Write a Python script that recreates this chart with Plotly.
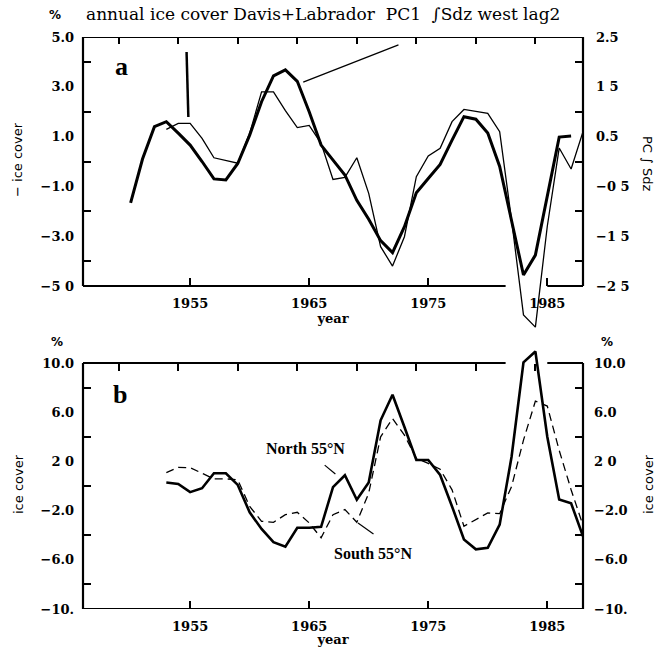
import plotly.graph_objects as go

# ---------------- data ----------------
years_pc1 = list(range(1950, 1988))
pc1_sdz = [-0.83, 0.05, 0.70, 0.80, 0.57, 0.33, 0.00, -0.35, -0.37, -0.04,
           0.53, 1.20, 1.72, 1.84, 1.61, 1.00, 0.33, 0.03, -0.27, -0.78,
           -1.16, -1.59, -1.83, -1.31, -0.63, -0.34, -0.06, 0.43, 0.90, 0.85,
           0.57, -0.10, -1.20, -2.28, -1.88, -0.72, 0.49, 0.51]

years_ice = list(range(1953, 1989))
neg_ice_cover = [1.29, 1.53, 1.53, 0.93, 0.15, 0.03, -0.07, 1.13, 2.80, 2.80,
                 2.04, 1.36, 1.45, 0.73, -0.72, -0.64, 0.15, -1.28, -3.42, -4.20,
                 -3.02, -0.61, 0.22, 0.53, 1.60, 2.09, 2.00, 1.93, 1.20, -2.35,
                 -6.16, -6.65, -2.60, 0.54, -0.30, 1.20]

years_b = list(range(1953, 1989))
north_55 = [0.28, 0.17, -0.50, -0.18, 1.04, 1.04, 0.09, -2.14, -3.49, -4.56,
            -4.94, -3.40, -3.40, -3.32, -0.09, 0.87, -1.12, 0.28, 5.34, 7.42,
            4.80, 2.11, 2.11, 0.90, -1.66, -4.35, -5.15, -5.02, -3.14, 2.38,
            10.05, 10.94, 4.00, -1.10, -1.40, -4.10]
south_55 = [1.09, 1.52, 1.49, 1.04, 0.58, 0.58, 0.50, -1.66, -2.87, -2.95,
            -2.33, -2.14, -3.00, -4.21, -2.33, -1.92, -2.95, -0.58, 4.00, 5.48,
            4.13, 2.25, 1.84, 1.36, -0.31, -3.27, -2.73, -2.19, -2.25, -0.04,
            3.73, 6.90, 6.50, 2.90, -0.30, -3.20]

x_tickvals = [1955, 1965, 1975, 1985]
x_ticktext = ["1955", "1965", "1975", "1985"]
x_top_ticks = [1949, 1954, 1959, 1964, 1969, 1974, 1979, 1984]

ya_left_vals = [5, 3, 1, -1, -3, -5]
ya_left_text = ["5.0", "3.0", "1.0", "\u22121.0", "\u22123.0", "\u22125 0"]
ya_left_minor = [4, 2, 0, -2, -4]
ya_right_vals = [2.5, 1.5, 0.5, -0.5, -1.5, -2.5]
ya_right_text = ["2.5", "1 5", "0.5", "\u22120 5", "\u22121 5", "\u22122 5"]
ya_right_minor = [2, 1, 0, -1, -2]

yb_vals = [10, 6, 2, -2, -6, -10]
yb_text = ["10.0", "6.0", "2 0", "\u22122.0", "\u22126.0", "\u221210."]
yb_minor = [8, 4, 0, -4, -8]

# ---------------- geometry helpers ----------------
L, R, T, B = 83, 72, 37, 38
W, H = 655, 647
PW, PH = W - L - R, H - T - B


def px(x):
    return (x - L) / PW


def py(y):
    return (H - B - y) / PH


# panel a: frame 37..286 px for [-5, 5]; extended below to -7 so dips show
A_TOP, A_BOT = 37, 286
a_ppu = (A_BOT - A_TOP) / 10.0
a_ext = 2.0
dom_a = [py(A_BOT + a_ext * a_ppu), 1.0]
# panel b: frame 363..609 px for [-10, 10]; extended above to 11.5
B_TOP, B_BOT = 363, 609
b_ppu = (B_BOT - B_TOP) / 20.0
b_ext = 1.5
dom_b = [0.0, py(B_TOP - b_ext * b_ppu)]

TICKFONT = dict(family="DejaVu Serif", size=13, color="black", weight="bold")
LABFONT = dict(family="DejaVu Sans", size=13, color="black")
YEARFONT = dict(family="DejaVu Serif", size=13, color="black", weight="bold")

fig = go.Figure()

# panel a
fig.add_trace(go.Scatter(x=years_ice, y=neg_ice_cover, xaxis="x2", yaxis="y2",
                         mode="lines", line=dict(color="black", width=1.3),
                         showlegend=False, name="annual ice cover"))
fig.add_trace(go.Scatter(x=years_pc1, y=pc1_sdz, xaxis="x2", yaxis="y4",
                         mode="lines", line=dict(color="black", width=3),
                         showlegend=False, name="PC1 Sdz"))
# panel b
fig.add_trace(go.Scatter(x=years_b, y=south_55, xaxis="x", yaxis="y",
                         mode="lines", line=dict(color="black", width=1.3, dash="8px,5px"),
                         showlegend=False, name="South 55N"))
fig.add_trace(go.Scatter(x=years_b, y=north_55, xaxis="x", yaxis="y",
                         mode="lines", line=dict(color="black", width=2.6),
                         showlegend=False, name="North 55N"))

xr = [1946, 1988]
common_x = dict(range=xr, showgrid=False, zeroline=False, showline=False,
                tickmode="array", ticks="inside", ticklen=8, tickwidth=1.5,
                tickcolor="black", tickfont=TICKFONT, ticklabelstandoff=8,
                automargin=False)
top_x = dict(range=xr, showgrid=False, zeroline=False, showline=False,
             tickmode="array", tickvals=x_top_ticks, ticks="inside", ticklen=7,
             tickwidth=1.5, tickcolor="black", showticklabels=False, side="top",
             automargin=False)


def yax(rng, vals, text, minor, side="left", standoff=8):
    return dict(range=rng, showgrid=False, zeroline=False, showline=False,
                tickmode="array", tickvals=vals, ticktext=text, ticks="",
                tickfont=TICKFONT, side=side, ticklabelstandoff=standoff,
                automargin=False,
                minor=dict(tickmode="array", tickvals=minor, ticks="inside",
                           ticklen=8, tickwidth=1.5, tickcolor="black", showgrid=False))


fig.update_layout(
    width=W, height=H, margin=dict(l=L, r=R, t=T, b=B, autoexpand=False),
    paper_bgcolor="white", plot_bgcolor="white",
    xaxis=dict(**common_x, tickvals=x_tickvals, ticktext=x_ticktext, anchor="y",
               domain=[0, 1],
               title=dict(text="year", font=YEARFONT, standoff=0)),
    xaxis2=dict(**common_x, tickvals=x_tickvals, ticktext=x_ticktext, anchor="free",
                position=py(A_BOT), domain=[0, 1],
                title=dict(text="year", font=YEARFONT, standoff=0)),
    xaxis3=dict(**top_x, overlaying="x", anchor="free", position=py(B_TOP)),
    xaxis4=dict(**top_x, overlaying="x2", anchor="y2"),
    yaxis=dict(**yax([-10, 10 + b_ext], yb_vals, yb_text, yb_minor), domain=dom_b,
               anchor="x"),
    yaxis2=dict(**yax([-5 - a_ext, 5], ya_left_vals, ya_left_text, ya_left_minor),
                domain=dom_a, anchor="x2"),
    yaxis3=dict(**yax([-10, 10 + b_ext], yb_vals, yb_text, yb_minor, side="right",
                      standoff=10), overlaying="y", anchor="x"),
    yaxis4=dict(**yax([(-5 - a_ext) / 2, 2.5], ya_right_vals, ya_right_text,
                      ya_right_minor, side="right", standoff=12),
                overlaying="y2", anchor="x2"),
)

# invisible traces to activate top/right axes
fig.add_trace(go.Scatter(x=[None], y=[None], xaxis="x3", yaxis="y3", showlegend=False))
fig.add_trace(go.Scatter(x=[None], y=[None], xaxis="x4", yaxis="y4", showlegend=False))

# ---------------- frames ----------------
shapes = []
LW = 2.2


def seg(xref, yref, x0, y0, x1, y1, w=LW):
    shapes.append(dict(type="line", xref=xref, yref=yref, x0=x0, y0=y0, x1=x1, y1=y1,
                       line=dict(color="black", width=w), layer="above"))


# panel a frame (bottom has a gap where the curve dips out)
seg("x2 domain", "y2", 0, 5, 1, 5)
seg("x2 domain", "y2", 0, -5, 0, 5)
seg("x2 domain", "y2", 1, -5, 1, 5)
seg("x2", "y2", 1946, -5, 1981.5, -5)
seg("x2", "y2", 1985, -5, 1988, -5)
# panel b frame (top has a gap where the curve rises out)
seg("x domain", "y", 0, -10, 1, -10)
seg("x domain", "y", 0, -10, 0, 10)
seg("x domain", "y", 1, -10, 1, 10)
seg("x", "y", 1946, 10, 1981.5, 10)
seg("x", "y", 1985, 10, 1988, 10)

# pointer lines
seg("x2", "y2", 1954.7, 4.4, 1954.85, 1.79, w=2.5)
seg("x2", "y2", 1972.5, 4.68, 1964.5, 3.19, w=1.3)
seg("x", "y", 1966.3, 1.7, 1967.2, 0.98, w=1.2)
seg("x", "y", 1969.1, -3.0, 1970.4, -3.9, w=1.2)

fig.update_layout(shapes=shapes)

# ---------------- annotations ----------------
ann = []


def note(x, y, text, font, angle=0, xanchor="center"):
    ann.append(dict(x=px(x), y=py(y), xref="paper", yref="paper", text=text,
                    showarrow=False, font=font, textangle=angle,
                    xanchor=xanchor, yanchor="middle"))


note(84, 14, "annual ice cover Davis+Labrador  PC1  \u222bSdz west lag2",
     dict(family="DejaVu Serif", size=17, color="black"), xanchor="left")
pct = dict(family="DejaVu Sans", size=12, color="black", weight="bold")
note(55, 15, "%", pct)
note(57, 342, "%", pct)
note(607, 342, "%", pct)
note(18, 160, "\u2212 ice cover", LABFONT, angle=-90)
note(18, 484, "ice cover", LABFONT, angle=-90)
note(648, 484, "ice cover", LABFONT, angle=-90)
note(648, 163, "PC \u222b Sdz", LABFONT, angle=90)
big = dict(family="Liberation Serif", size=26, color="black", weight="bold")
note(121, 66, "a", big)
note(120, 394, "b", big)
lab = dict(family="Liberation Serif", size=16, color="black", weight="bold")
note(305, 448, "North 55\u00b0N", lab)
note(373, 553, "South 55\u00b0N", lab)

fig.update_layout(annotations=ann)

fig.write_html("out.html")
